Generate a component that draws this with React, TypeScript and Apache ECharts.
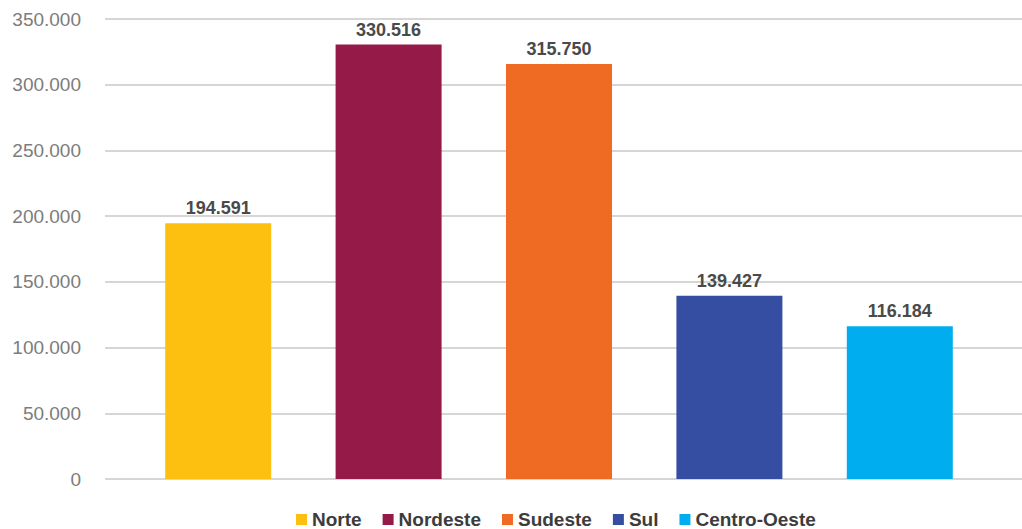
import React, { useEffect, useRef } from "react";
import * as echarts from "echarts";

const categories = ["Norte", "Nordeste", "Sudeste", "Sul", "Centro-Oeste"];
const values = [194591, 330516, 315750, 139427, 116184];
const colors = ["#FDC010", "#961A47", "#EF6A22", "#354EA1", "#00AEEF"];
const yMin = 0;
const yMax = 350000;
const yInterval = 50000;

const FONT = "'Liberation Sans', Arial, Helvetica, sans-serif";

const fmt = (v: number) => {
  const s = Math.round(v).toString();
  return s.replace(/\B(?=(\d{3})+(?!\d))/g, ".");
};

export default function App() {
  const ref = useRef<HTMLDivElement>(null);
  useEffect(() => {
    if (!ref.current) return;
    const chart = echarts.init(ref.current, undefined, { renderer: "svg" });
    const series = categories.map((name, i) => ({
      name,
      type: "bar",
      xAxisIndex: 1,
      yAxisIndex: 1,
      barWidth: 106,
      barGap: "-100%",
      itemStyle: { color: colors[i] },
      label: {
        show: true,
        position: "top",
        distance: 6,
        formatter: (p: any) => fmt(p.value),
        fontFamily: FONT,
        fontWeight: "bold",
        fontSize: 18,
        color: "#4a4a4a",
      },
      data: categories.map((_, j) => (j === i ? values[i] : null)),
    }));
    chart.setOption({
      animation: false,
      backgroundColor: "#ffffff",
      textStyle: { fontFamily: FONT },
      grid: [
        { left: 105, right: 0, top: 19, bottom: 50 },
        { left: 133, right: 37, top: 19, bottom: 50 },
      ],
      legend: {
        top: 510,
        left: 291,
        padding: [0, 5],
        icon: "rect",
        itemWidth: 11,
        itemHeight: 11,
        itemGap: 21,
        textStyle: {
          fontFamily: FONT,
          fontWeight: "bold",
          fontSize: 19,
          color: "#3c3c3c",
        },
        data: categories,
      },
      xAxis: [
        { type: "value", gridIndex: 0, show: false, min: 0, max: 1 },
        {
          type: "category",
          gridIndex: 1,
          data: categories,
          show: false,
        },
      ],
      yAxis: [
        {
          type: "value",
          gridIndex: 0,
          min: yMin,
          max: yMax,
          interval: yInterval,
          axisLine: { show: false },
          axisTick: { show: false },
          axisLabel: {
            margin: 24,
            fontFamily: FONT,
            fontSize: 19,
            color: "#7c7c7c",
            formatter: (v: number) => fmt(v),
          },
          splitLine: { lineStyle: { color: "#d6d6d6", width: 2 } },
        },
        {
          type: "value",
          gridIndex: 1,
          min: yMin,
          max: yMax,
          interval: yInterval,
          show: false,
          splitLine: { show: false },
        },
      ],
      series,
    });
    return () => chart.dispose();
  }, []);
  return <div ref={ref} style={{ width: 1022, height: 529, position: "absolute", left: 0, top: 0 }} />;
}
